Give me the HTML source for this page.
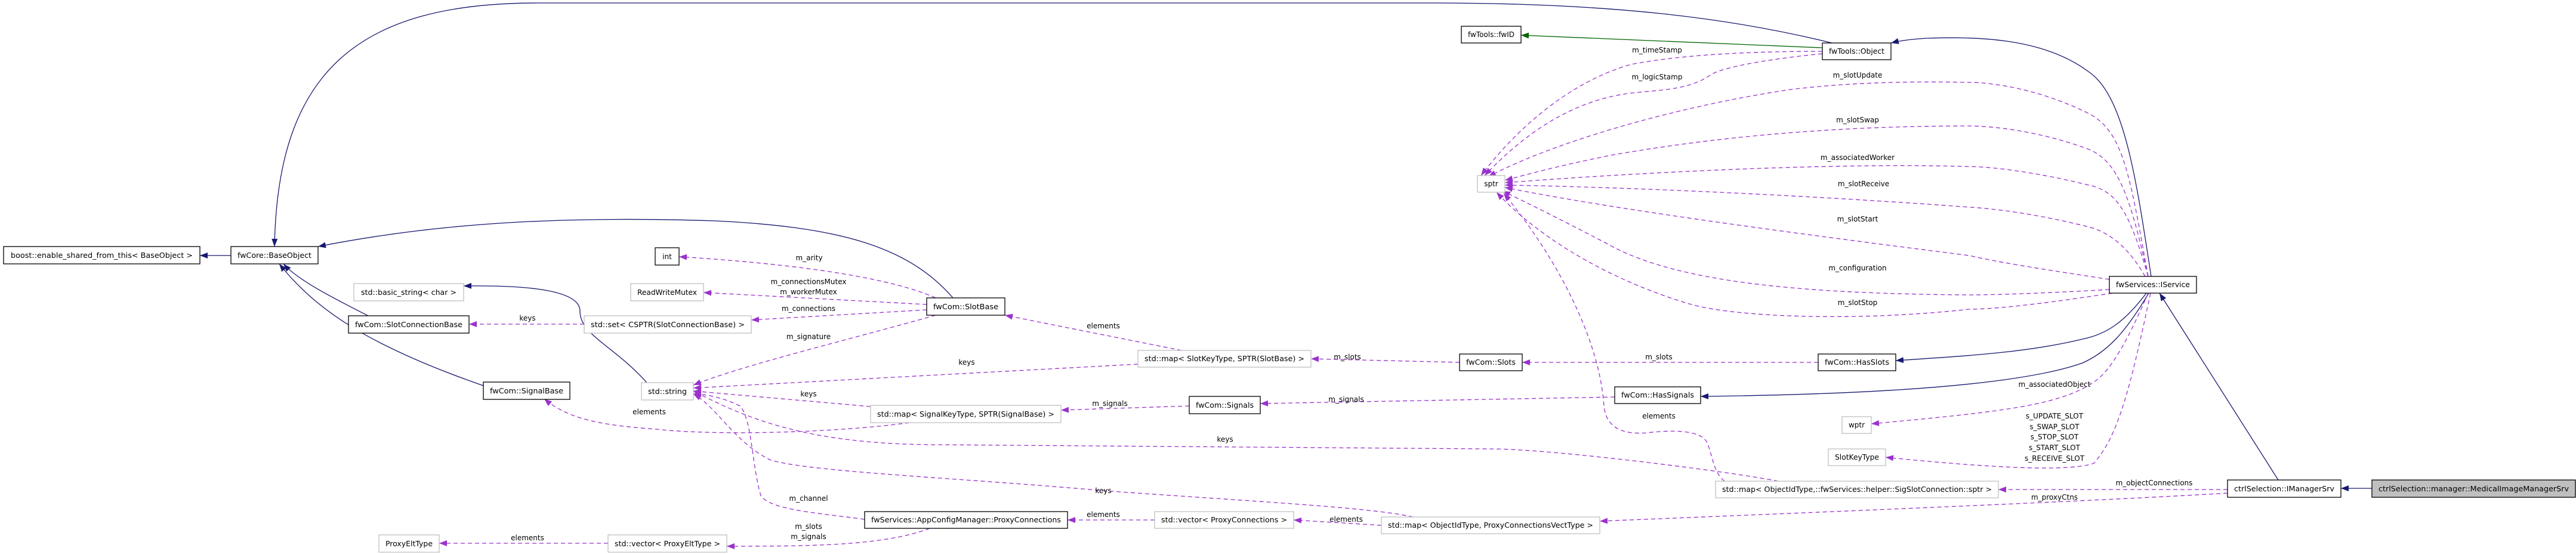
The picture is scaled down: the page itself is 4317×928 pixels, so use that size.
<!DOCTYPE html>
<html><head><meta charset="utf-8"><style>
html,body{margin:0;padding:0;background:#fff;}
svg{display:block;}
text{font-family:"DejaVu Sans","Liberation Sans",sans-serif;font-size:12px;fill:#000;}
.n{fill:#fff;stroke:#000;stroke-width:1.3;}
.g{fill:#fff;stroke:#bfbfbf;stroke-width:1.3;}
.nv{fill:none;stroke:#191970;stroke-width:1.3;}
.gr{fill:none;stroke:#006400;stroke-width:1.3;}
.pu{fill:none;stroke:#9a32cd;stroke-width:1.3;stroke-dasharray:7,5;}
</style></head><body>
<svg width="4317" height="928" viewBox="0 0 4317 928" xmlns="http://www.w3.org/2000/svg">
<defs>
<marker id="an" markerUnits="userSpaceOnUse" markerWidth="14" markerHeight="12" refX="13" refY="6" orient="auto"><path d="M0,1 L13,6 L0,11 Z" fill="#191970"/></marker>
<marker id="ag" markerUnits="userSpaceOnUse" markerWidth="14" markerHeight="12" refX="13" refY="6" orient="auto"><path d="M0,1 L13,6 L0,11 Z" fill="#006400"/></marker>
<marker id="ap" markerUnits="userSpaceOnUse" markerWidth="14" markerHeight="12" refX="13" refY="6" orient="auto"><path d="M0,1 L13,6 L0,11 Z" fill="#9a32cd"/></marker>
</defs>

<!-- navy inheritance -->
<g marker-end="url(#an)">
<path class="nv" d="M387,428 L335,428"/>
<path class="nv" d="M3070,72 C2900,30 2700,5 2400,5 L900,5 C600,5 465,120 460,413"/>
<path class="nv" d="M1597,499 C1520,410 1400,380 1200,370 C900,360 700,380 533,413"/>
<path class="nv" d="M617,529 C560,500 500,470 475,442"/>
<path class="nv" d="M810,646 C620,580 530,520 468,442"/>
<path class="nv" d="M1084,641 C1030,580 970,560 972,520 C970,480 850,478 777,479"/>
<path class="nv" d="M3605,463 C3580,300 3560,160 3500,120 C3420,60 3300,62 3230,64 C3200,66 3185,68 3169,72"/>
<path class="nv" d="M3597,491 C3560,540 3530,560 3490,568 C3400,590 3300,596 3177,604"/>
<path class="nv" d="M3601,491 C3560,560 3530,590 3490,608 C3400,640 3200,660 2850,664"/>
<path class="nv" d="M3818,804 L3619,491"/>
<path class="nv" d="M3975,818 L3923,818"/>
</g>
<path class="gr" marker-end="url(#ag)" d="M3054,80 L2549,59"/>

<!-- purple usage -->
<g marker-end="url(#ap)">
<path class="pu" d="M1568,499 C1480,460 1300,440 1138,430"/>
<path class="pu" d="M1553,510 L1179,490"/>
<path class="pu" d="M1553,519 L1259,536"/>
<path class="pu" d="M1568,528 C1420,570 1250,610 1162,645"/>
<path class="pu" d="M979,543 L786,543"/>
<path class="pu" d="M1980,587 L1684,528"/>
<path class="pu" d="M1907,610 L1162,650"/>
<path class="pu" d="M1459,681 L1162,655"/>
<path class="pu" d="M1524,708 C1400,725 1200,730 1100,719 C1000,712 950,700 912,668"/>
<path class="pu" d="M1993,680 L1778,687"/>
<path class="pu" d="M2706,665 L2112,676"/>
<path class="pu" d="M2446,607 L2197,601"/>
<path class="pu" d="M3047,607 L2551,607"/>
<path class="pu" d="M2980,806 C2900,790 2600,752 2500,752 L1577,745 C1350,745 1250,700 1162,655"/>
<path class="pu" d="M2368,866 C2300,850 2100,840 1850,822 C1600,800 1350,790 1290,770 C1230,740 1200,680 1162,660"/>
<path class="pu" d="M1449,870 C1380,860 1290,855 1275,830 C1260,780 1260,700 1240,680 C1210,665 1180,660 1162,660"/>
<path class="pu" d="M1558,885 C1480,915 1350,915 1218,915"/>
<path class="pu" d="M1019,910 L736,910"/>
<path class="pu" d="M1935,871 L1789,871"/>
<path class="pu" d="M2315,880 L2168,871"/>
<path class="pu" d="M2890,806 C2870,790 2870,760 2860,740 C2850,720 2800,720 2760,725 C2700,730 2690,700 2688,680 C2680,560 2600,420 2520,324"/>
<path class="pu" d="M3733,820 L3349,820"/>
<path class="pu" d="M3733,826 C3500,840 3000,860 2681,873"/>
<path class="pu" d="M3054,86 C2900,86 2800,95 2733,108 C2620,140 2530,230 2482,294"/>
<path class="pu" d="M3054,90 C2950,100 2880,115 2866,126 C2830,150 2790,150 2733,156 C2620,170 2540,240 2488,294"/>
<path class="pu" d="M3600,463 C3570,300 3560,220 3500,190 C3420,150 3340,138 3300,138 C3200,136 3100,138 3000,150 C2800,180 2600,240 2494,296"/>
<path class="pu" d="M3600,463 C3570,330 3550,270 3500,250 C3420,220 3340,211 3300,211 C3100,211 2900,225 2700,260 C2600,280 2550,295 2522,302"/>
<path class="pu" d="M3600,463 C3570,360 3550,320 3500,310 C3420,290 3340,279 3300,279 C3100,273 2800,285 2522,306"/>
<path class="pu" d="M3595,463 C3570,420 3540,390 3500,380 C3420,360 3350,350 3300,347 C3000,325 2700,313 2522,310"/>
<path class="pu" d="M3535,468 C3450,455 3350,440 3300,428 C3000,390 2700,350 2522,314"/>
<path class="pu" d="M3535,485 C3450,490 3350,494 3300,494 C3000,492 2800,470 2691,407 C2620,370 2560,340 2518,320"/>
<path class="pu" d="M3540,491 C3450,505 3350,518 3300,518 C3100,540 2900,530 2831,509 C2700,470 2580,400 2508,322"/>
<path class="pu" d="M3600,491 C3570,560 3540,620 3509,640 C3450,680 3350,690 3136,710"/>
<path class="pu" d="M3604,491 C3570,650 3550,730 3509,776 C3470,790 3350,785 3160,766"/>
</g>

<!-- edge labels -->
<g text-anchor="middle">
<text x="1356" y="436">m_arity</text>
<text x="1355" y="476">m_connectionsMutex</text>
<text x="1355" y="493">m_workerMutex</text>
<text x="1355" y="521">m_connections</text>
<text x="1355" y="568">m_signature</text>
<text x="884" y="537">keys</text>
<text x="1849" y="550">elements</text>
<text x="1620" y="611">keys</text>
<text x="1355" y="664">keys</text>
<text x="1088" y="694">elements</text>
<text x="1860" y="680">m_signals</text>
<text x="2256" y="673">m_signals</text>
<text x="2258" y="602">m_slots</text>
<text x="2780" y="602">m_slots</text>
<text x="2053" y="740">keys</text>
<text x="1849" y="826">keys</text>
<text x="1355" y="839">m_channel</text>
<text x="1355" y="886">m_slots</text>
<text x="1355" y="903">m_signals</text>
<text x="884" y="905">elements</text>
<text x="1849" y="866">elements</text>
<text x="2256" y="874">elements</text>
<text x="2780" y="701">elements</text>
<text x="3610" y="813">m_objectConnections</text>
<text x="3443" y="837">m_proxyCtns</text>
<text x="2777" y="88">m_timeStamp</text>
<text x="2777" y="133">m_logicStamp</text>
<text x="3113" y="130">m_slotUpdate</text>
<text x="3113" y="205">m_slotSwap</text>
<text x="3113" y="268">m_associatedWorker</text>
<text x="3123" y="312">m_slotReceive</text>
<text x="3113" y="371">m_slotStart</text>
<text x="3113" y="453">m_configuration</text>
<text x="3113" y="511">m_slotStop</text>
<text x="3443" y="648">m_associatedObject</text>
<text x="3443" y="701">s_UPDATE_SLOT</text>
<text x="3443" y="719">s_SWAP_SLOT</text>
<text x="3443" y="736">s_STOP_SLOT</text>
<text x="3443" y="754">s_START_SLOT</text>
<text x="3443" y="772">s_RECEIVE_SLOT</text>
</g>

<!-- nodes -->
<g text-anchor="middle">
<rect class="n" x="6" y="413" width="329" height="29"/><text x="170.5" y="432" textLength="305" lengthAdjust="spacingAndGlyphs">boost::enable_shared_from_this&lt; BaseObject &gt;</text>
<rect class="n" x="387" y="413" width="146" height="29"/><text x="460" y="432" textLength="124" lengthAdjust="spacingAndGlyphs">fwCore::BaseObject</text>
<rect class="g" x="593" y="475" width="184" height="29"/><text x="685" y="494" textLength="160" lengthAdjust="spacingAndGlyphs">std::basic_string&lt; char &gt;</text>
<rect class="n" x="584" y="529" width="202" height="29"/><text x="685" y="548" textLength="180" lengthAdjust="spacingAndGlyphs">fwCom::SlotConnectionBase</text>
<rect class="n" x="810" y="640" width="145" height="29"/><text x="882.5" y="659" textLength="123" lengthAdjust="spacingAndGlyphs">fwCom::SignalBase</text>
<rect class="g" x="635" y="896" width="101" height="29"/><text x="685.5" y="915" textLength="79" lengthAdjust="spacingAndGlyphs">ProxyEltType</text>
<rect class="n" x="1098" y="415" width="40" height="29"/><text x="1118" y="434">int</text>
<rect class="g" x="1057" y="475" width="122" height="29"/><text x="1118" y="494" textLength="100" lengthAdjust="spacingAndGlyphs">ReadWriteMutex</text>
<rect class="g" x="979" y="529" width="280" height="29"/><text x="1119" y="548" textLength="258" lengthAdjust="spacingAndGlyphs">std::set&lt; CSPTR(SlotConnectionBase) &gt;</text>
<rect class="g" x="1075" y="641" width="87" height="29"/><text x="1118.5" y="660" textLength="65" lengthAdjust="spacingAndGlyphs">std::string</text>
<rect class="n" x="1553" y="499" width="131" height="29"/><text x="1618.5" y="518" textLength="109" lengthAdjust="spacingAndGlyphs">fwCom::SlotBase</text>
<rect class="g" x="1907" y="587" width="290" height="28"/><text x="2052" y="605" textLength="268" lengthAdjust="spacingAndGlyphs">std::map&lt; SlotKeyType, SPTR(SlotBase) &gt;</text>
<rect class="g" x="1459" y="679" width="319" height="29"/><text x="1618.5" y="698" textLength="297" lengthAdjust="spacingAndGlyphs">std::map&lt; SignalKeyType, SPTR(SignalBase) &gt;</text>
<rect class="n" x="1993" y="664" width="119" height="29"/><text x="2052.5" y="683" textLength="97" lengthAdjust="spacingAndGlyphs">fwCom::Signals</text>
<rect class="n" x="1449" y="857" width="340" height="28"/><text x="1619" y="875" textLength="318" lengthAdjust="spacingAndGlyphs">fwServices::AppConfigManager::ProxyConnections</text>
<rect class="g" x="1935" y="857" width="233" height="28"/><text x="2051.5" y="875" textLength="211" lengthAdjust="spacingAndGlyphs">std::vector&lt; ProxyConnections &gt;</text>
<rect class="g" x="1019" y="896" width="199" height="29"/><text x="1118.5" y="915" textLength="177" lengthAdjust="spacingAndGlyphs">std::vector&lt; ProxyEltType &gt;</text>
<rect class="n" x="2449" y="44" width="100" height="28"/><text x="2499" y="62" textLength="78" lengthAdjust="spacingAndGlyphs">fwTools::fwID</text>
<rect class="n" x="3054" y="72" width="115" height="28"/><text x="3111.5" y="90" textLength="93" lengthAdjust="spacingAndGlyphs">fwTools::Object</text>
<rect class="g" x="2476" y="294" width="46" height="28"/><text x="2499" y="312">sptr</text>
<rect class="n" x="2446" y="593" width="105" height="28"/><text x="2498.5" y="611" textLength="83" lengthAdjust="spacingAndGlyphs">fwCom::Slots</text>
<rect class="n" x="3047" y="593" width="130" height="28"/><text x="3112" y="611" textLength="108" lengthAdjust="spacingAndGlyphs">fwCom::HasSlots</text>
<rect class="n" x="2706" y="648" width="144" height="28"/><text x="2778" y="666" textLength="122" lengthAdjust="spacingAndGlyphs">fwCom::HasSignals</text>
<rect class="g" x="3087" y="698" width="49" height="28"/><text x="3111.5" y="716">wptr</text>
<rect class="g" x="3064" y="752" width="96" height="28"/><text x="3112" y="770" textLength="74" lengthAdjust="spacingAndGlyphs">SlotKeyType</text>
<rect class="g" x="2875" y="806" width="474" height="28"/><text x="3112" y="824" textLength="452" lengthAdjust="spacingAndGlyphs">std::map&lt; ObjectIdType,::fwServices::helper::SigSlotConnection::sptr &gt;</text>
<rect class="g" x="2315" y="866" width="366" height="28"/><text x="2498" y="884" textLength="344" lengthAdjust="spacingAndGlyphs">std::map&lt; ObjectIdType, ProxyConnectionsVectType &gt;</text>
<rect class="n" x="3535" y="463" width="146" height="28"/><text x="3608" y="481" textLength="124" lengthAdjust="spacingAndGlyphs">fwServices::IService</text>
<rect class="n" x="3733" y="804" width="190" height="29"/><text x="3828" y="823" textLength="168" lengthAdjust="spacingAndGlyphs">ctrlSelection::IManagerSrv</text>
<rect x="3975" y="804" width="341" height="29" fill="#bfbfbf" stroke="#000" stroke-width="1.3"/><text x="4145.5" y="823" textLength="319" lengthAdjust="spacingAndGlyphs">ctrlSelection::manager::MedicalImageManagerSrv</text>
</g>
</svg>
</body></html>
